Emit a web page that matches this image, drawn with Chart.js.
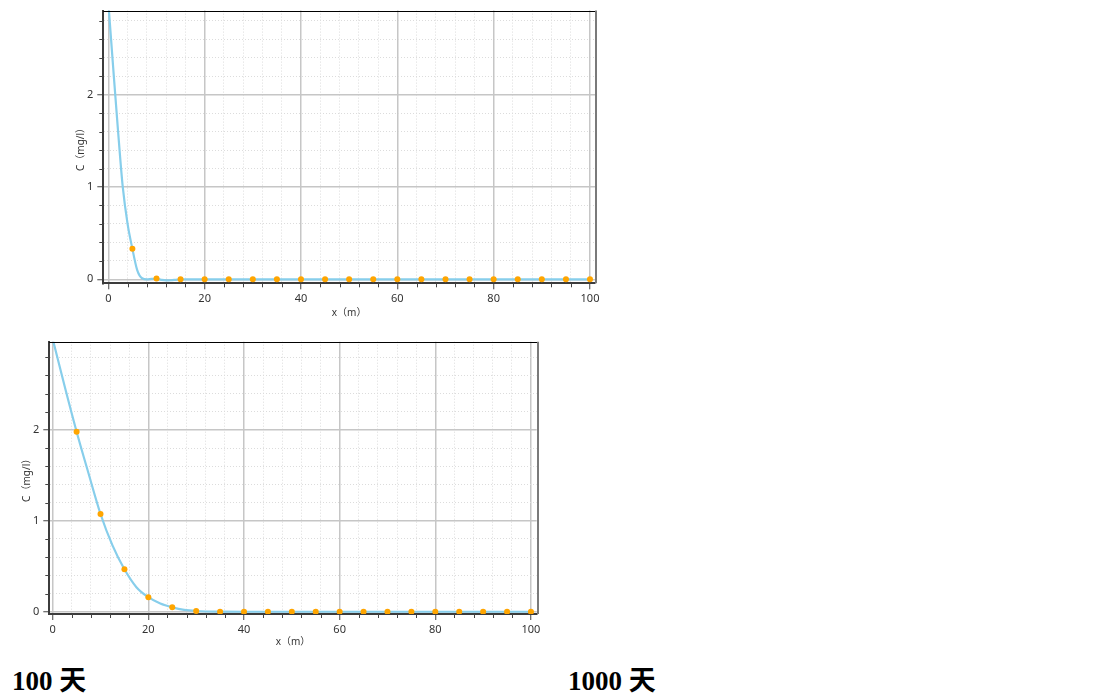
<!DOCTYPE html>
<html>
<head>
<meta charset="utf-8">
<script src="https://cdn.jsdelivr.net/npm/chart.js@4.4.0/dist/chart.umd.min.js"></script>
<style>
    body { margin: 0; width: 1105px; height: 696px; background: #fff; position: relative; overflow: hidden; }
    canvas { position: absolute; }
    .caption {
        position: absolute;
        font: bold 27px "Liberation Serif", "Noto Sans CJK SC", serif;
        line-height: 27px;
        color: #000;
        white-space: nowrap;
    }
</style>
</head>
<body>
<canvas id="chart100" width="580" height="330" style="left:40px;top:0px"></canvas>
<canvas id="chart1000" width="560" height="330" style="left:0px;top:330px"></canvas>
<div class="caption" style="left:12px;top:668px">100 天</div>
<div class="caption" style="left:568px;top:668px">1000 天</div>

<script>
// Datos
const puntosX = [5, 10, 15, 20, 25, 30, 35, 40, 45, 50, 55, 60, 65, 70, 75, 80, 85, 90, 95, 100];

// 100 天
const puntos100 = [0.33, 0.01, 0, 0, 0, 0, 0, 0, 0, 0, 0, 0, 0, 0, 0, 0, 0, 0, 0, 0];
const curvaX100 = [0, 1, 2, 3, 4, 5, 6, 7, 8, 9, 10, 11, 12, 13, 14, 15, 20, 25, 30, 35, 40, 45, 50, 55, 60, 65, 70, 75, 80, 85, 90, 95, 100];
const curva100 = [3.0, 2.3, 1.62, 1.0, 0.6, 0.33, 0.1, 0.012, 0, 0.004, 0.005, -0.006, -0.012, -0.01, -0.005, 0, 0, 0, 0, 0, 0, 0, 0, 0, 0, 0, 0, 0, 0, 0, 0, 0, 0];

// 1000 天
const puntos1000 = [1.98, 1.075, 0.467, 0.16, 0.048, 0.008, 0, 0, 0, 0, 0, 0, 0, 0, 0, 0, 0, 0, 0, 0];
const curvaX1000 = [0, 2.5, 5, 7.5, 10, 12.5, 15, 17.5, 20, 22.5, 25, 27.5, 30, 35, 40, 45, 50, 55, 60, 65, 70, 75, 80, 85, 90, 95, 100];
const curva1000 = [3.0, 2.48, 1.98, 1.52, 1.075, 0.73, 0.467, 0.27, 0.16, 0.09, 0.048, 0.02, 0.008, 0.001, 0, 0, 0, 0, 0, 0, 0, 0, 0, 0, 0, 0, 0];

// Ejes
const xMayores = [0, 20, 40, 60, 80, 100];
const yMayores = [0, 1, 2];
const xPasoMenor = 4;
const yPasoMenor = 0.2;
const tituloX = 'x（m）';
const tituloY = 'C（mg/l）';

const fuente = '"Noto Sans", "Noto Sans CJK SC", sans-serif';

function valoresTicks(hasta, paso) {
    const v = [];
    for (let i = 0; i * paso <= hasta + 1e-9; i++) {
        v.push(Math.round(i * paso * 1000) / 1000);
    }
    return v;
}

function esMayor(lista, valor) {
    return lista.some(m => Math.abs(m - valor) < 1e-6);
}

// Marcas cortas para los ticks menores y marco superior/derecho
const ticksMenores = {
    id: 'ticksMenores',
    afterDraw(chart) {
        const { ctx, chartArea, scales } = chart;
        ctx.save();
        ctx.strokeStyle = '#444';
        ctx.lineWidth = 1;
        scales.x.ticks.forEach(t => {
            if (esMayor(xMayores, t.value)) return;
            const px = Math.round(scales.x.getPixelForValue(t.value)) + 0.5;
            ctx.beginPath();
            ctx.moveTo(px, chartArea.bottom);
            ctx.lineTo(px, chartArea.bottom + 4);
            ctx.stroke();
        });
        scales.y.ticks.forEach(t => {
            if (esMayor(yMayores, t.value)) return;
            const py = Math.round(scales.y.getPixelForValue(t.value)) + 0.5;
            ctx.beginPath();
            ctx.moveTo(chartArea.left - 4, py);
            ctx.lineTo(chartArea.left, py);
            ctx.stroke();
        });
        ctx.strokeStyle = '#000';
        ctx.beginPath();
        ctx.moveTo(chartArea.left, Math.round(chartArea.top) + 0.5);
        ctx.lineTo(chartArea.right + 1, Math.round(chartArea.top) + 0.5);
        ctx.stroke();
        ctx.strokeStyle = '#7a7a7a';
        ctx.lineWidth = 2;
        ctx.beginPath();
        ctx.moveTo(Math.round(chartArea.right) + 1, chartArea.top);
        ctx.lineTo(Math.round(chartArea.right) + 1, chartArea.bottom);
        ctx.stroke();
        ctx.restore();
    }
};

function crearGrafico(id, cfg) {
    const xTicks = valoresTicks(100, xPasoMenor);
    const yTicks = valoresTicks(cfg.yMax, yPasoMenor);

    const puntos = puntosX.map((x, i) => ({ x, y: cfg.puntos[i] }));
    const curva = cfg.curvaX.map((x, i) => ({ x, y: cfg.curva[i] }));

    const rejilla = (mayores) => ({
        color: c => (c.tick && esMayor(mayores, c.tick.value)) ? '#c6c6c6' : '#dcdcdc',
        lineWidth: c => (c.tick && esMayor(mayores, c.tick.value)) ? 1.5 : 1,
        tickColor: c => (c.tick && esMayor(mayores, c.tick.value)) ? '#444' : 'rgba(0,0,0,0)',
        tickLength: 6,
        tickWidth: 1
    });
    const borde = (mayores) => ({
        color: '#3c3c3c',
        width: 2,
        dash: c => (c.tick && !esMayor(mayores, c.tick.value)) ? [1, 2] : []
    });

    new Chart(document.getElementById(id), {
        type: 'scatter',
        data: {
            datasets: [
                {
                    data: puntos,
                    backgroundColor: '#ffa500',
                    borderColor: '#ffa500',
                    pointRadius: 3,
                    pointBorderWidth: 0,
                    showLine: false
                },
                {
                    data: curva,
                    showLine: true,
                    borderColor: '#87ceeb',
                    borderWidth: 2.2,
                    pointRadius: 0,
                    cubicInterpolationMode: 'monotone'
                }
            ]
        },
        options: {
            responsive: false,
            animation: false,
            layout: { padding: { top: cfg.padTop, right: cfg.padRight, left: 0, bottom: 0 } },
            plugins: { legend: { display: false }, tooltip: { enabled: false } },
            scales: {
                x: {
                    type: 'linear',
                    min: cfg.xMin,
                    max: cfg.xMax,
                    afterFit: s => { s.height = cfg.altoX; },
                    afterBuildTicks: s => { s.ticks = xTicks.map(v => ({ value: v })); },
                    ticks: {
                        autoSkip: false,
                        maxRotation: 0,
                        padding: 3,
                        color: '#333',
                        font: { family: fuente, size: 11 },
                        callback: v => esMayor(xMayores, v) ? String(Math.round(v)) : ''
                    },
                    grid: rejilla(xMayores),
                    border: borde(xMayores),
                    title: {
                        display: true,
                        text: tituloX,
                        color: '#333',
                        font: { family: fuente, size: 10 },
                        padding: { top: 0, bottom: cfg.tituloXPad }
                    }
                },
                y: {
                    type: 'linear',
                    min: cfg.yMin,
                    max: cfg.yMax,
                    afterFit: s => { s.width = cfg.anchoY; },
                    afterBuildTicks: s => { s.ticks = yTicks.map(v => ({ value: v })); },
                    ticks: {
                        autoSkip: false,
                        padding: 4,
                        color: '#333',
                        font: { family: fuente, size: 11 },
                        callback: v => esMayor(yMayores, v) ? String(Math.round(v)) : ''
                    },
                    grid: rejilla(yMayores),
                    border: borde(yMayores),
                    title: {
                        display: true,
                        text: tituloY,
                        color: '#333',
                        font: { family: fuente, size: 10 },
                        padding: { top: cfg.tituloYPad, bottom: 0 }
                    }
                }
            }
        },
        plugins: [ticksMenores]
    });
}

crearGrafico('chart100', {
    puntos: puntos100, curvaX: curvaX100, curva: curva100,
    xMin: -1.04, xMax: 101.04, yMin: -0.043, yMax: 2.91,
    padTop: 9, padRight: 25, anchoY: 63.3, altoX: 46.7,
    tituloXPad: 11.3, tituloYPad: 34.7
});

crearGrafico('chart1000', {
    puntos: puntos1000, curvaX: curvaX1000, curva: curva1000,
    xMin: -0.71, xMax: 101.2, yMin: -0.025, yMax: 2.97,
    padTop: 11.7, padRight: 23.3, anchoY: 49.3, altoX: 46,
    tituloXPad: 12, tituloYPad: 20.7
});
</script>
</body>
</html>
